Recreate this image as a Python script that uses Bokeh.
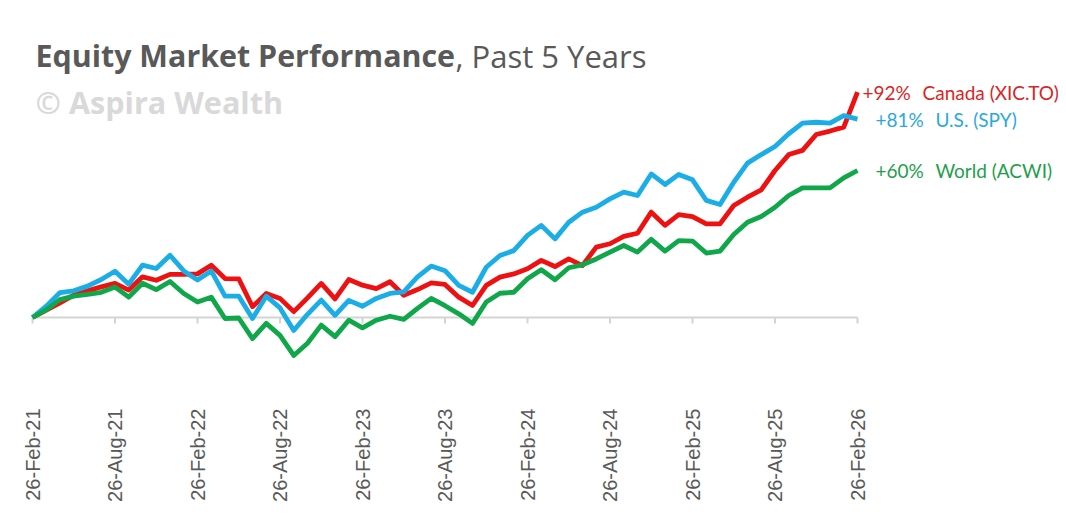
import numpy as np
from bokeh.plotting import figure
from bokeh.models import Range1d, FixedTicker, Label, ColumnDataSource
from bokeh.core.properties import value
from bokeh.embed import file_html
from bokeh.resources import INLINE

# ---- data (cumulative % return, monthly, 26-Feb-21 .. 26-Feb-26) ----
tick_labels = ["26-Feb-21", "26-Aug-21", "26-Feb-22", "26-Aug-22", "26-Feb-23",
               "26-Aug-23", "26-Feb-24", "26-Aug-24", "26-Feb-25", "26-Aug-25",
               "26-Feb-26"]

canada = [0, 3.0, 6.0, 9.1, 10.9, 12.5, 13.9, 11.2, 16.6, 15.2,
          17.6, 17.6, 17.8, 21.3, 15.9, 15.8, 4.4, 9.8, 7.8, 2.4,
          8.0, 13.9, 7.6, 15.5, 13.2, 11.8, 14.6, 9.1, 11.4, 14.1,
          13.5, 8.3, 4.9, 13.1, 16.5, 17.8, 19.9, 23.3, 20.8, 23.9,
          21.2, 28.7, 30.1, 33.1, 34.4, 43.0, 37.6, 42.0, 41.2, 38.2,
          38.2, 45.7, 49.1, 52.1, 60.0, 66.5, 68.2, 74.7, 76.1, 77.7,
          92.0]

us = [0, 4.6, 10.2, 10.9, 12.8, 15.5, 18.9, 13.6, 21.4, 20.0,
      25.4, 19.0, 15.3, 19.0, 8.7, 8.7, -0.4, 8.7, 3.9, -5.3,
      1.3, 7.1, 0.9, 7.0, 4.6, 7.8, 9.8, 10.5, 16.6, 21.0,
      19.1, 13.1, 10.3, 20.5, 25.3, 27.3, 33.5, 37.6, 32.1, 38.9,
      43.0, 45.0, 48.4, 51.2, 49.8, 58.6, 54.3, 58.4, 56.2, 47.8,
      46.1, 55.2, 63.0, 66.5, 69.8, 75.0, 79.3, 79.7, 79.3, 82.4,
      81.0]

world = [0, 3.1, 7.3, 8.7, 9.4, 10.3, 12.4, 8.3, 14.0, 11.4,
         14.7, 9.8, 6.3, 8.3, -0.4, -0.2, -8.6, -2.4, -7.3, -15.5,
         -10.5, -3.1, -7.8, -1.1, -4.2, -1.1, 0.5, -0.8, 3.7, 7.8,
         4.8, 1.5, -2.4, 6.3, 9.9, 10.3, 15.8, 19.5, 15.4, 20.3,
         21.5, 23.9, 26.7, 29.4, 26.7, 31.9, 27.1, 31.4, 31.2, 26.3,
         27.1, 33.9, 38.9, 41.2, 45.0, 49.8, 52.9, 52.9, 52.9, 57.0,
         60.0]

series_names = ["Canada (XIC.TO)", "U.S. (SPY)", "World (ACWI)"]
series_values = [canada, us, world]
series_colors = ["#EE1111", "#1BADE6", "#10A64A"]
label_colors = ["#D92525", "#2AA8E0", "#1E9E4C"]
label_offsets = [5, 18, 18]

months = list(range(len(canada)))
tick_pos = months[::6]

# ---- figure geometry ----
W, H = 1058, 508
px_per_month = 13.75
px_per_pct = 2.45
left_b, bottom_b = 18, 110
frame_h = H - bottom_b
x0_px = 32          # where month 0 sits inside the figure
zero_px = 317       # where 0% sits from the top of the figure

x_start = -(x0_px - left_b) / px_per_month
x_end = x_start + (W - left_b) / px_per_month
y_top = zero_px / px_per_pct
y_bot = -(frame_h - zero_px) / px_per_pct

p = figure(width=W, height=H, output_backend="svg", toolbar_location=None,
           x_range=Range1d(x_start, x_end), y_range=Range1d(y_bot, y_top),
           y_axis_location=None, min_border_left=left_b, min_border_right=0,
           min_border_top=0, min_border_bottom=bottom_b)
p.outline_line_color = None
p.grid.visible = False
p.background_fill_color = "white"
p.border_fill_color = "white"

# x axis: labels only
ax = p.xaxis[0]
ax.ticker = FixedTicker(ticks=tick_pos)
ax.major_label_overrides = {t: s for t, s in zip(tick_pos, tick_labels)}
ax.major_label_orientation = np.pi / 2
ax.major_label_text_font = "Liberation Sans"
ax.major_label_text_font_size = "20px"
ax.major_label_text_color = "#595959"
ax.major_label_standoff = 4
ax.axis_line_color = None
ax.major_tick_line_color = None
ax.minor_tick_line_color = None

# zero line and tick marks
p.line(x=[months[0], months[-1]], y=[0, 0], line_color="#D4D4D4", line_width=2)
tick_len = 6 / px_per_pct
p.segment(x0=tick_pos, y0=[0] * len(tick_pos), x1=tick_pos,
          y1=[-tick_len] * len(tick_pos), line_color="#D4D4D4", line_width=2)

# series
for vals, col in zip(series_values, series_colors):
    p.line(x=months, y=vals, line_color=col, line_width=4.8, line_join="round")

# end labels
for vals, name, col, off in zip(series_values, series_names, label_colors, label_offsets):
    pct = f"+{round(vals[-1])}%"
    src = ColumnDataSource(dict(x=[months[-1]], y=[vals[-1]], t=[pct], n=[name]))
    p.text(x="x", y="y", text="t", source=src, x_offset=off, text_baseline="middle",
           text_align="left", text_color=col, text_font=value("Lato"),
           text_font_size="19px")
    p.text(x="x", y="y", text="n", source=src, x_offset=off + 60, text_baseline="middle",
           text_align="left", text_color=col, text_font=value("Lato"),
           text_font_size="19px")

# titles
p.add_layout(Label(x=17, y=343, x_units="screen", y_units="screen",
                   text="Equity Market Performance", text_font="Open Sans",
                   text_font_style="bold", text_font_size="30.4px",
                   text_color="#595959", text_baseline="alphabetic"))
p.add_layout(Label(x=437, y=343, x_units="screen", y_units="screen",
                   text=", Past 5 Years", text_font="Open Sans",
                   text_font_size="31px",
                   text_color="#595959", text_baseline="alphabetic"))
p.add_layout(Label(x=17, y=297, x_units="screen", y_units="screen",
                   text="© Aspira Wealth", text_font="Open Sans",
                   text_font_style="bold", text_font_size="30.6px",
                   text_color="#D9D9D9", text_baseline="alphabetic"))

open("out.html", "w").write(file_html(p, INLINE))
